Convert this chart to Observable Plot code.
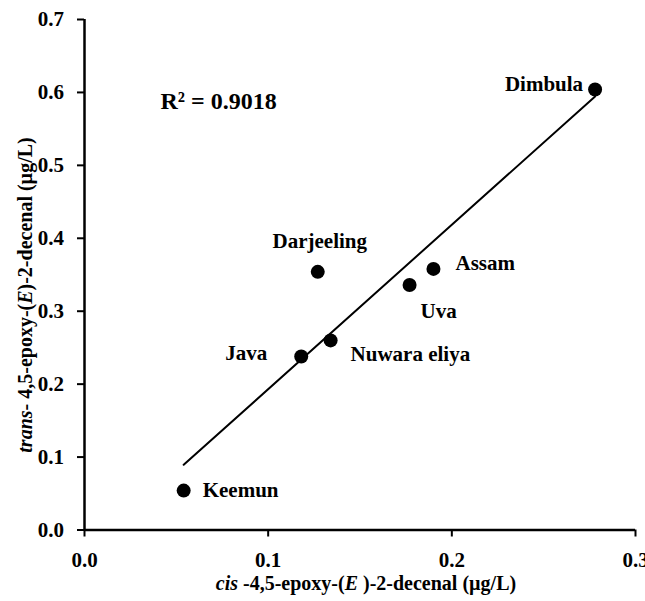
<!DOCTYPE html>
<html>
<head>
<meta charset="utf-8">
<script src="https://cdn.jsdelivr.net/npm/d3@7"></script>
<script src="https://cdn.jsdelivr.net/npm/@observablehq/plot@0.6"></script>
<style>
  html, body { margin: 0; padding: 0; background: #fff; }
  svg text, svg tspan { font-family: "Liberation Serif", "Times New Roman", serif !important; }
</style>
</head>
<body>
<div id="chart"></div>
<script>
// Data
const teas = ["Keemun", "Java", "Nuwara eliya", "Darjeeling", "Uva", "Assam", "Dimbula"];
const cisValues = [0.054, 0.118, 0.134, 0.127, 0.177, 0.190, 0.278];
const transValues = [0.054, 0.238, 0.260, 0.354, 0.336, 0.358, 0.604];
const xTicks = [0.0, 0.1, 0.2, 0.3];
const yTicks = [0.0, 0.1, 0.2, 0.3, 0.4, 0.5, 0.6, 0.7];
const r2Text = "R\u00b2 = 0.9018";

const data = teas.map((name, i) => ({name, cis: cisValues[i], trans: transValues[i]}));

// label placement (px offsets from the dot)
const labelPlacement = {
  "Keemun":       {anchor: "start",  dx: 19,  dy: 0},
  "Java":         {anchor: "end",    dx: -34, dy: -3},
  "Nuwara eliya": {anchor: "start",  dx: 20,  dy: 14},
  "Darjeeling":   {anchor: "middle", dx: 2,   dy: -31},
  "Uva":          {anchor: "start",  dx: 11,  dy: 26},
  "Assam":        {anchor: "start",  dx: 22,  dy: -6},
  "Dimbula":      {anchor: "end",    dx: -12, dy: -5}
};

const font = "Liberation Serif, Times New Roman, serif";

const labelMarks = data.map(d => {
  const p = labelPlacement[d.name];
  return Plot.text([d], {x: "cis", y: "trans", text: "name", textAnchor: p.anchor, dx: p.dx, dy: p.dy,
    fontSize: 21, fontWeight: "bold", fill: "black"});
});

const svg = Plot.plot({
  width: 645,
  height: 601,
  marginLeft: 84,
  marginRight: 10,
  marginTop: 19,
  marginBottom: 71.5,
  style: {fontFamily: font, fontWeight: "bold", fontSize: "21px", color: "black", background: "white"},
  x: {domain: [0, 0.3]},
  y: {domain: [0, 0.7]},
  marks: [
    Plot.axisX({ticks: xTicks, tickSize: 7, tickPadding: 15, strokeWidth: 2, tickFormat: d3.format(".1f"), label: null, fontSize: 21}),
    Plot.axisY({ticks: yTicks, tickSize: 7, tickPadding: 13.5, strokeWidth: 2, tickFormat: d3.format(".1f"), label: null, fontSize: 21}),
    Plot.ruleX([0], {stroke: "black", strokeWidth: 2.5}),
    Plot.ruleY([0], {stroke: "black", strokeWidth: 2.5}),
    Plot.linearRegressionY(data, {x: "cis", y: "trans", ci: 0, stroke: "black", strokeWidth: 2}),
    Plot.dot(data, {x: "cis", y: "trans", r: 7, fill: "black", stroke: "none"}),
    ...labelMarks,
    Plot.text([r2Text], {frameAnchor: "top-left", dx: 76, dy: 72, fontSize: 24, fontWeight: "bold", fill: "black"})
  ]
});

// axis titles with mixed italic styling
const s = d3.select(svg);
const xt = s.append("text")
  .attr("x", 366).attr("y", 590)
  .attr("text-anchor", "middle")
  .attr("font-size", 20).attr("font-weight", "bold").attr("font-family", font).attr("fill", "black");
xt.append("tspan").attr("font-style", "italic").text("cis");
xt.append("tspan").text(" -4,5-epoxy-(");
xt.append("tspan").attr("font-style", "italic").text("E");
xt.append("tspan").text(" )-2-decenal (\u00b5g/L)");

const yt = s.append("text")
  .attr("transform", "translate(32,295) rotate(-90)")
  .attr("text-anchor", "middle")
  .attr("font-size", 20).attr("font-weight", "bold").attr("font-family", font).attr("fill", "black");
yt.append("tspan").attr("font-style", "italic").text("trans");
yt.append("tspan").text("- 4,5-epoxy-(");
yt.append("tspan").attr("font-style", "italic").text("E");
yt.append("tspan").text(")-2-decenal (\u00b5g/L)");

document.getElementById("chart").appendChild(svg);
</script>
</body>
</html>
